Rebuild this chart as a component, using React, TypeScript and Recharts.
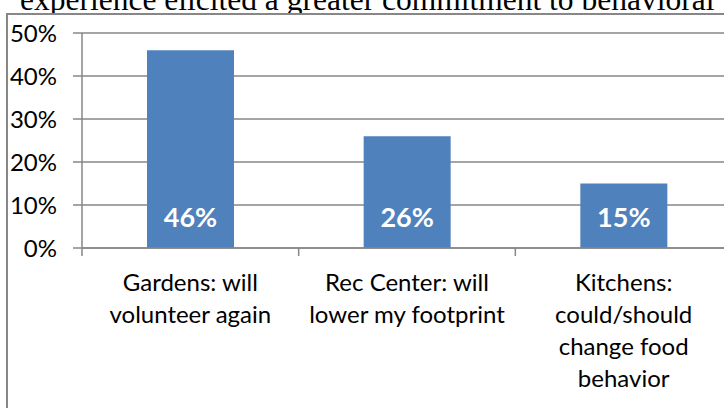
import React from "react";
import {
  Bar,
  BarChart,
  CartesianGrid,
  LabelList,
  XAxis,
  YAxis,
} from "recharts";

// text above the chart, cut off by the top of the frame
const heading = "experience elicited a greater commitment to behavioral";

const categories = [
  "Gardens: will volunteer again",
  "Rec Center: will lower my footprint",
  "Kitchens: could/should change food behavior",
];
// how each category label wraps under the axis
const categoryLines = [
  ["Gardens: will", "volunteer again"],
  ["Rec Center: will", "lower my footprint"],
  ["Kitchens:", "could/should", "change food", "behavior"],
];
const shares = [0.46, 0.26, 0.15];
const yTicks = [0, 0.1, 0.2, 0.3, 0.4, 0.5];

const data = categories.map((name, i) => ({
  name,
  share: shares[i],
}));

const font = "Lato, Calibri, 'Open Sans', sans-serif";
const gray = "#878787";
const pct = (v: number) => `${Math.round(v * 100)}%`;

// label under each category, plus the tick marks on the category edges
function CategoryTick(props: any) {
  const { x, y, index, payload } = props;
  const i = typeof index === "number" ? index : categories.indexOf(payload?.value);
  const lines = categoryLines[i] || [];
  const half = payload?.offset || 0;
  const edges = i === categories.length - 1 ? [x - half, x + half] : [x - half];
  return (
    <g>
      {edges.map((ex) => (
        <line
          key={ex}
          x1={ex}
          x2={ex}
          y1={y}
          y2={y + 8}
          stroke={gray}
          strokeWidth={1.5}
        />
      ))}
      <text
        x={x}
        y={y}
        textAnchor="middle"
        fontFamily={font}
        fontSize={24}
        fill="#000"
      >
        {lines.map((line, k) => (
          <tspan key={line} x={x} dy={k === 0 ? 42.5 : 32.3}>
            {line}
          </tspan>
        ))}
      </text>
    </g>
  );
}

export default function App() {
  return (
    <div
      style={{
        position: "fixed",
        left: 0,
        top: 0,
        width: 724,
        height: 408,
        overflow: "hidden",
        background: "#fff",
      }}
    >
      <svg
        width={724}
        height={40}
        style={{ position: "absolute", left: 0, top: 0 }}
      >
        <text
          x={20}
          y={10}
          fontFamily="'Liberation Serif', 'Times New Roman', serif"
          fontSize={31.5}
          fill="#000"
        >
          {heading}
        </text>
      </svg>
      <div
        style={{
          position: "absolute",
          left: 6,
          top: 13,
          width: 800,
          height: 500,
          border: `2px solid ${gray}`,
          background: "#fff",
        }}
      />
      <div style={{ position: "absolute", left: 0, top: 0 }}>
        <BarChart
          width={760}
          height={420}
          data={data}
          margin={{ top: 33, right: 28, left: 0, bottom: 171 }}
          barCategoryGap="30%"
        >
          <CartesianGrid vertical={false} stroke={gray} strokeWidth={1.5} />
          <XAxis
            dataKey="name"
            height={1}
            axisLine={{ stroke: gray, strokeWidth: 1.5 }}
            tickLine={false}
            tickSize={0}
            tickMargin={0}
            interval={0}
            tick={<CategoryTick />}
          />
          <YAxis
            width={82}
            domain={[0, 0.5]}
            ticks={yTicks}
            tickFormatter={pct}
            tickSize={9}
            tickMargin={16}
            axisLine={{ stroke: gray, strokeWidth: 1.5 }}
            tickLine={{ stroke: gray, strokeWidth: 1.5 }}
            tick={{ fontFamily: font, fontSize: 24, fill: "#000" }}
          />
          <Bar dataKey="share" fill="#4F81BD" isAnimationActive={false}>
            <LabelList
              dataKey="share"
              position="insideBottom"
              offset={21}
              formatter={(v: any) => pct(Number(v))}
              fill="#fff"
              fontFamily={font}
              fontSize={27}
              fontWeight={700}
            />
          </Bar>
        </BarChart>
      </div>
    </div>
  );
}
